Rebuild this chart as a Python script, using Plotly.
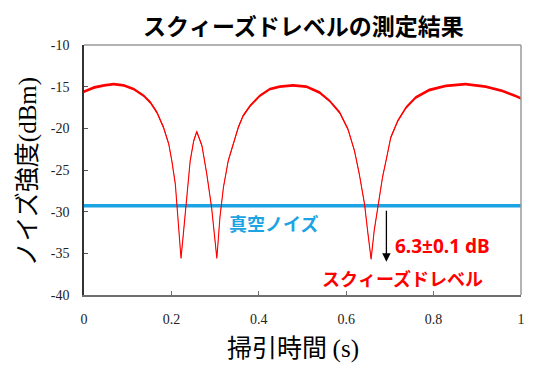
import plotly.graph_objects as go

# Squeezed noise trace (sweep time s, noise power dBm)
sweep_time = [0.000, 0.023, 0.046, 0.068, 0.091, 0.114, 0.137, 0.152, 0.167, 0.182,
              0.194, 0.201, 0.209, 0.216, 0.222, 0.228, 0.235, 0.243, 0.251, 0.258,
              0.270, 0.281, 0.292, 0.304, 0.311, 0.319, 0.330, 0.342, 0.353, 0.364,
              0.380, 0.402, 0.425, 0.448, 0.478, 0.509, 0.539, 0.562, 0.585, 0.604,
              0.619, 0.630, 0.642, 0.649, 0.657, 0.664, 0.673, 0.683, 0.691, 0.702,
              0.718, 0.737, 0.759, 0.790, 0.828, 0.873, 0.919, 0.957, 0.987, 1.000]
squeezed_dbm = [-15.6, -15.1, -14.85, -14.7, -14.85, -15.3, -16.1, -16.9, -18.1, -19.9,
                -21.9, -23.9, -26.7, -31.1, -35.6, -32.3, -27.9, -23.9, -21.5, -20.4,
                -22.1, -25.5, -29.5, -35.6, -30.7, -27.1, -23.9, -21.9, -19.9, -18.5,
                -17.3, -16.1, -15.3, -15.0, -14.85, -15.0, -15.7, -16.7, -18.1, -20.1,
                -22.7, -25.5, -29.1, -32.3, -35.7, -32.3, -29.1, -25.9, -23.9, -21.1,
                -19.1, -17.5, -16.3, -15.4, -14.9, -14.7, -15.0, -15.5, -16.1, -16.4]

# Vacuum (shot) noise level
vacuum_time = [0.0, 1.0]
vacuum_dbm = [-29.3, -29.3]

# Trace jitter (visual thickness of the noisy trace), dB
NOISE_DB = 0.17

x_ticks = [0, 0.2, 0.4, 0.6, 0.8, 1]
x_tick_text = ["0", "0.2", "0.4", "0.6", "0.8", "1"]
y_ticks = [-40, -35, -30, -25, -20, -15, -10]
y_tick_text = ["-40", "-35", "-30", "-25", "-20", "-15", "-10"]

RED = "#FF0000"
BLUE = "#1BA3E3"
JP = "Noto Sans CJK JP"
LATIN = "Noto Sans"
SERIF = "Liberation Serif"

fig = go.Figure()

# vacuum noise line
fig.add_trace(go.Scatter(x=vacuum_time, y=vacuum_dbm, mode="lines",
                         line=dict(color=BLUE, width=3.5), hoverinfo="skip",
                         showlegend=False))

# red noisy band
fig.add_trace(go.Scatter(x=sweep_time, y=[v - NOISE_DB for v in squeezed_dbm],
                         mode="lines", line=dict(width=0, color=RED),
                         hoverinfo="skip", showlegend=False))
fig.add_trace(go.Scatter(x=sweep_time, y=[v + NOISE_DB for v in squeezed_dbm],
                         mode="lines", line=dict(width=0, color=RED),
                         fill="tonexty", fillcolor=RED,
                         hoverinfo="skip", showlegend=False))
fig.add_trace(go.Scatter(x=sweep_time, y=squeezed_dbm, mode="lines",
                         line=dict(color=RED, width=1.1), showlegend=False))

annotations = [
    # arrow
    dict(x=0.692, y=-36.0, ax=0.692, ay=-29.7, xref="x", yref="y",
         axref="x", ayref="y", showarrow=True, arrowhead=2, arrowsize=1.3,
         arrowwidth=1.3, arrowcolor="#000000", text=""),
    dict(x=0.707, y=-34.1, xref="x", yref="y", xanchor="left", yanchor="middle",
         showarrow=False, text="<b>6.3±0.1 dB</b>",
         font=dict(family=LATIN, size=19, color=RED)),
    dict(x=0.728, y=-38.0, xref="x", yref="y", xanchor="center", yanchor="middle",
         showarrow=False, text="<b>スクィーズドレベル</b>",
         font=dict(family=JP, size=18, color=RED)),
    dict(x=0.434, y=-31.4, xref="x", yref="y", xanchor="center", yanchor="middle",
         showarrow=False, text="<b>真空ノイズ</b>",
         font=dict(family=JP, size=18, color=BLUE)),
    # axis titles
    dict(x=-0.134, y=0.496, xref="paper", yref="paper", xanchor="center",
         yanchor="middle", showarrow=False, textangle=-90,
         text="ノイズ強度<span style='font-family:Liberation Serif'>(dBm)</span>",
         font=dict(family=JP, size=25, color="#000000")),
    dict(x=0.478, y=-0.204, xref="paper", yref="paper", xanchor="center",
         yanchor="middle", showarrow=False,
         text="掃引時間 <span style='font-family:Liberation Serif'>(s)</span>",
         font=dict(family=JP, size=25, color="#000000")),
    # chart title
    dict(x=0.503, y=1.081, xref="paper", yref="paper", xanchor="center",
         yanchor="middle", showarrow=False, text="<b>スクィーズドレベルの測定結果</b>",
         font=dict(family=JP, size=23, color="#000000")),
]

shapes = [
    dict(type="line", xref="paper", yref="paper", x0=0, x1=1, y0=1, y1=1,
         line=dict(color="#9A9A9A", width=1.5)),
    dict(type="line", xref="paper", yref="paper", x0=1, x1=1, y0=0, y1=1,
         line=dict(color="#9A9A9A", width=1.5)),
]

fig.update_layout(
    width=537, height=366, autosize=False,
    margin=dict(l=84, r=14, t=45, b=71, pad=0),
    paper_bgcolor="white", plot_bgcolor="white",
    showlegend=False,
    annotations=annotations,
    shapes=shapes,
    xaxis=dict(range=[0, 1], tickvals=x_ticks, ticktext=x_tick_text,
               showgrid=False, zeroline=False, showline=True,
               linecolor="#6E6E6E", linewidth=1.5, ticks="inside", ticklen=4,
               tickcolor="#6E6E6E", tickwidth=1, ticklabelstandoff=10,
               tickfont=dict(family=SERIF, size=14, color="#222222")),
    yaxis=dict(range=[-40, -10], tickvals=y_ticks, ticktext=y_tick_text,
               showgrid=False, zeroline=False, showline=True,
               linecolor="#333333", linewidth=1.5, ticks="inside", ticklen=4,
               tickcolor="#555555", tickwidth=1, ticklabelstandoff=10,
               tickfont=dict(family=SERIF, size=14, color="#222222")),
)

fig.write_html(
    "out.html",
    config={"displayModeBar": False},
    post_script="document.body.style.margin='0';document.body.style.overflow='hidden';",
)
